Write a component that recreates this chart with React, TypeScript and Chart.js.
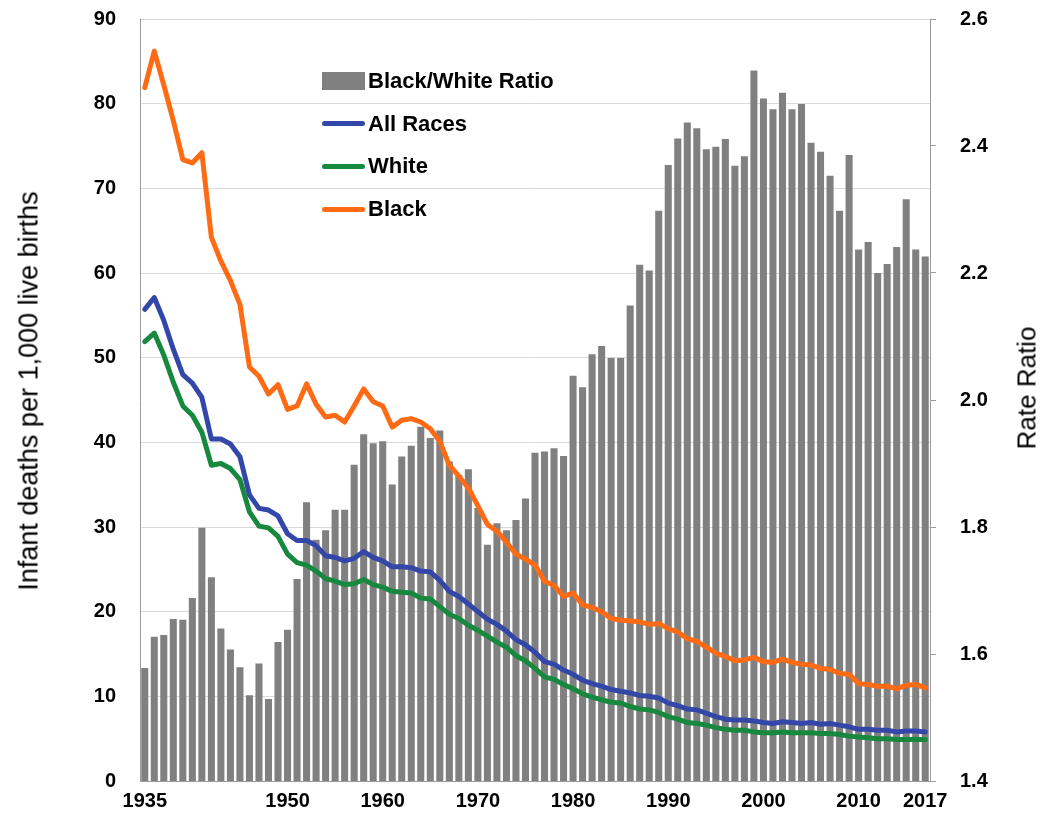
import React, { useEffect, useRef } from "react";
import { Chart, registerables } from "chart.js";

Chart.register(...registerables);

const years: number[] = [
  1935, 1936, 1937, 1938, 1939, 1940, 1941, 1942, 1943, 1944,
  1945, 1946, 1947, 1948, 1949, 1950, 1951, 1952, 1953, 1954,
  1955, 1956, 1957, 1958, 1959, 1960, 1961, 1962, 1963, 1964,
  1965, 1966, 1967, 1968, 1969, 1970, 1971, 1972, 1973, 1974,
  1975, 1976, 1977, 1978, 1979, 1980, 1981, 1982, 1983, 1984,
  1985, 1986, 1987, 1988, 1989, 1990, 1991, 1992, 1993, 1994,
  1995, 1996, 1997, 1998, 1999, 2000, 2001, 2002, 2003, 2004,
  2005, 2006, 2007, 2008, 2009, 2010, 2011, 2012, 2013, 2014,
  2015, 2016, 2017,
];

const shownYears: number[] = [1935, 1950, 1960, 1970, 1980, 1990, 2000, 2010, 2017];

const allRaces: number[] = [
  55.7, 57.1, 54.4, 51.0, 48.0, 47.0, 45.3, 40.4, 40.4, 39.8,
  38.3, 33.8, 32.2, 32.0, 31.3, 29.2, 28.4, 28.4, 27.8, 26.6,
  26.4, 26.0, 26.3, 27.1, 26.4, 26.0, 25.3, 25.3, 25.2, 24.8,
  24.7, 23.7, 22.4, 21.8, 20.9, 20.0, 19.1, 18.5, 17.7, 16.7,
  16.1, 15.2, 14.1, 13.8, 13.1, 12.6, 11.9, 11.5, 11.2, 10.8,
  10.6, 10.4, 10.1, 10.0, 9.8, 9.2, 8.9, 8.5, 8.4, 8.0,
  7.6, 7.3, 7.2, 7.2, 7.1, 6.9, 6.8, 7.0, 6.9, 6.8,
  6.9, 6.7, 6.8, 6.6, 6.4, 6.1, 6.1, 6.0, 6.0, 5.8,
  5.9, 5.9, 5.8,
];

const white: number[] = [
  51.9, 52.9, 50.3, 47.1, 44.3, 43.2, 41.2, 37.3, 37.5, 36.9,
  35.6, 31.8, 30.1, 29.9, 28.9, 26.8, 25.8, 25.5, 24.8, 23.9,
  23.6, 23.2, 23.3, 23.8, 23.2, 22.9, 22.4, 22.3, 22.2, 21.6,
  21.5, 20.6, 19.7, 19.2, 18.4, 17.8, 17.1, 16.4, 15.8, 14.8,
  14.2, 13.3, 12.3, 12.0, 11.4, 10.9, 10.3, 9.9, 9.6, 9.3,
  9.2, 8.8, 8.5, 8.4, 8.1, 7.6, 7.3, 6.9, 6.8, 6.6,
  6.3, 6.1, 6.0, 6.0, 5.8, 5.7, 5.7, 5.8, 5.7, 5.7,
  5.7, 5.6, 5.6, 5.5, 5.3, 5.2, 5.1, 5.0, 5.0, 4.9,
  4.9, 4.9, 4.9,
];

const black: number[] = [
  81.9, 86.2, 82.2, 78.0, 73.4, 73.0, 74.2, 64.2, 61.4, 59.1,
  56.3, 48.9, 47.8, 45.7, 46.8, 43.9, 44.3, 46.9, 44.5, 43.0,
  43.2, 42.4, 44.3, 46.3, 44.8, 44.3, 41.8, 42.6, 42.8, 42.4,
  41.6, 40.1, 37.3, 36.0, 34.6, 32.5, 30.3, 29.5, 28.2, 26.8,
  26.2, 25.5, 23.6, 23.1, 21.8, 22.2, 20.8, 20.5, 20.0, 19.2,
  19.0, 18.9, 18.8, 18.5, 18.6, 18.0, 17.6, 16.8, 16.5, 15.8,
  15.1, 14.7, 14.2, 14.3, 14.6, 14.1, 14.0, 14.4, 14.0, 13.8,
  13.7, 13.3, 13.2, 12.7, 12.6, 11.5, 11.4, 11.2, 11.2, 10.9,
  11.3, 11.4, 11.0,
];

const ratio: number[] = [
  1.578, 1.627, 1.630, 1.655, 1.654, 1.688, 1.799, 1.721, 1.640, 1.607,
  1.579, 1.535, 1.585, 1.529, 1.619, 1.638, 1.718, 1.839, 1.780, 1.795,
  1.827, 1.827, 1.898, 1.946, 1.932, 1.935, 1.867, 1.911, 1.928, 1.958,
  1.940, 1.952, 1.903, 1.882, 1.891, 1.830, 1.772, 1.806, 1.795, 1.811,
  1.845, 1.917, 1.919, 1.924, 1.912, 2.038, 2.020, 2.072, 2.085, 2.066,
  2.066, 2.149, 2.213, 2.204, 2.298, 2.370, 2.412, 2.437, 2.428, 2.395,
  2.399, 2.411, 2.369, 2.384, 2.519, 2.475, 2.458, 2.484, 2.458, 2.466,
  2.405, 2.391, 2.353, 2.298, 2.386, 2.237, 2.249, 2.200, 2.214, 2.241,
  2.316, 2.237, 2.226,
];

const leftTicks = { min: 0, max: 90, step: 10 };
const rightTicks = { min: 1.4, max: 2.6, step: 0.2 };

const BAR = "#808080";
const BLUE = "#3347a8";
const GREEN = "#17893e";
const ORANGE = "#ff6a14";
const FONT = "'Liberation Sans', Arial, Helvetica, sans-serif";

const legendItems = [
  { label: "Black/White Ratio", color: BAR, kind: "box" },
  { label: "All Races", color: BLUE, kind: "line" },
  { label: "White", color: GREEN, kind: "line" },
  { label: "Black", color: ORANGE, kind: "line" },
];

export default function App() {
  const ref = useRef<HTMLCanvasElement | null>(null);

  useEffect(() => {
    const prevMargin = document.body.style.margin;
    document.body.style.margin = "0";
    const canvas = ref.current!;
    const tickFont = { family: FONT, size: 20, weight: "bold" as const };
    const lineBase = {
      type: "line" as const,
      yAxisID: "y",
      borderWidth: 5,
      pointRadius: 0,
      tension: 0,
      borderJoinStyle: "round" as const,
      borderCapStyle: "round" as const,
    };
    const chart = new Chart(canvas, {
      type: "bar",
      data: {
        labels: years.map(String),
        datasets: [
          { ...lineBase, label: "Black", data: black, borderColor: ORANGE, backgroundColor: ORANGE, order: 1 },
          { ...lineBase, label: "All Races", data: allRaces, borderColor: BLUE, backgroundColor: BLUE, order: 2 },
          { ...lineBase, label: "White", data: white, borderColor: GREEN, backgroundColor: GREEN, order: 3 },
          {
            type: "bar",
            label: "Black/White Ratio",
            data: ratio,
            yAxisID: "y1",
            backgroundColor: BAR,
            borderWidth: 0,
            barPercentage: 0.74,
            categoryPercentage: 1,
            order: 4,
          },
        ] as any,
      },
      options: {
        animation: false,
        responsive: false,
        maintainAspectRatio: false,
        layout: { padding: { top: 19, left: 0, right: 0, bottom: 0 } },
        plugins: { legend: { display: false }, tooltip: { enabled: false } },
        scales: {
          x: {
            offset: true,
            grid: { display: false, drawTicks: false },
            border: { display: true, color: "#9a9a9a", width: 1 },
            ticks: {
              autoSkip: false,
              maxRotation: 0,
              minRotation: 0,
              padding: 8,
              color: "#000",
              font: tickFont,
              callback: (_v: any, i: number) =>
                shownYears.includes(years[i]) ? String(years[i]) : "",
            },
            afterFit: (s: any) => {
              s.height = 50;
            },
          },
          y: {
            position: "left",
            min: leftTicks.min,
            max: leftTicks.max,
            ticks: {
              stepSize: leftTicks.step,
              padding: 24,
              color: "#000",
              font: tickFont,
            },
            grid: { color: "#dadada", lineWidth: 1, drawTicks: false },
            border: { display: true, color: "#9a9a9a", width: 1 },
            afterFit: (s: any) => {
              s.width = 140;
              s.paddingTop = 0;
              s.paddingBottom = 0;
            },
          },
          y1: {
            position: "right",
            min: rightTicks.min,
            max: rightTicks.max,
            ticks: {
              stepSize: rightTicks.step,
              padding: 24,
              color: "#000",
              font: tickFont,
              callback: (v: any) => Number(v).toFixed(1),
            },
            grid: {
              drawOnChartArea: false,
              drawTicks: true,
              tickLength: 6,
              color: "#9a9a9a",
            },
            border: { display: true, color: "#9a9a9a", width: 1 },
            afterFit: (s: any) => {
              s.width = 113;
              s.paddingTop = 0;
              s.paddingBottom = 0;
            },
          },
        },
      },
    });
    return () => {
      chart.destroy();
      document.body.style.margin = prevMargin;
    };
  }, []);

  return (
    <div
      style={{
        position: "absolute",
        left: 0,
        top: 0,
        width: 1043,
        height: 831,
        background: "#fff",
        fontFamily: FONT,
      }}
    >
      <canvas
        ref={ref}
        width={1043}
        height={831}
        style={{ display: "block", width: 1043, height: 831 }}
      />
      <div
        style={{
          position: "absolute",
          left: 29,
          top: 391,
          transform: "translate(-50%, -50%) rotate(-90deg)",
          whiteSpace: "nowrap",
          fontSize: 27,
          color: "#000",
        }}
      >
        Infant deaths per 1,000 live births
      </div>
      <div
        style={{
          position: "absolute",
          left: 1027,
          top: 388,
          transform: "translate(-50%, -50%) rotate(-90deg)",
          whiteSpace: "nowrap",
          fontSize: 26,
          color: "#000",
        }}
      >
        Rate Ratio
      </div>
      {legendItems.map((it, i) => {
        const cy = 81 + i * 42.7;
        return (
          <div key={it.label}>
            <div
              style={{
                position: "absolute",
                left: 322,
                top: it.kind === "box" ? cy - 9 : cy - 2.5,
                width: 43,
                height: it.kind === "box" ? 18 : 5,
                background: it.color,
                borderRadius: it.kind === "box" ? 0 : 2.5,
              }}
            />
            <div
              style={{
                position: "absolute",
                left: 368,
                top: cy - 13,
                height: 26,
                lineHeight: "26px",
                fontSize: 22,
                fontWeight: "bold",
                color: "#000",
                whiteSpace: "nowrap",
              }}
            >
              {it.label}
            </div>
          </div>
        );
      })}
    </div>
  );
}
